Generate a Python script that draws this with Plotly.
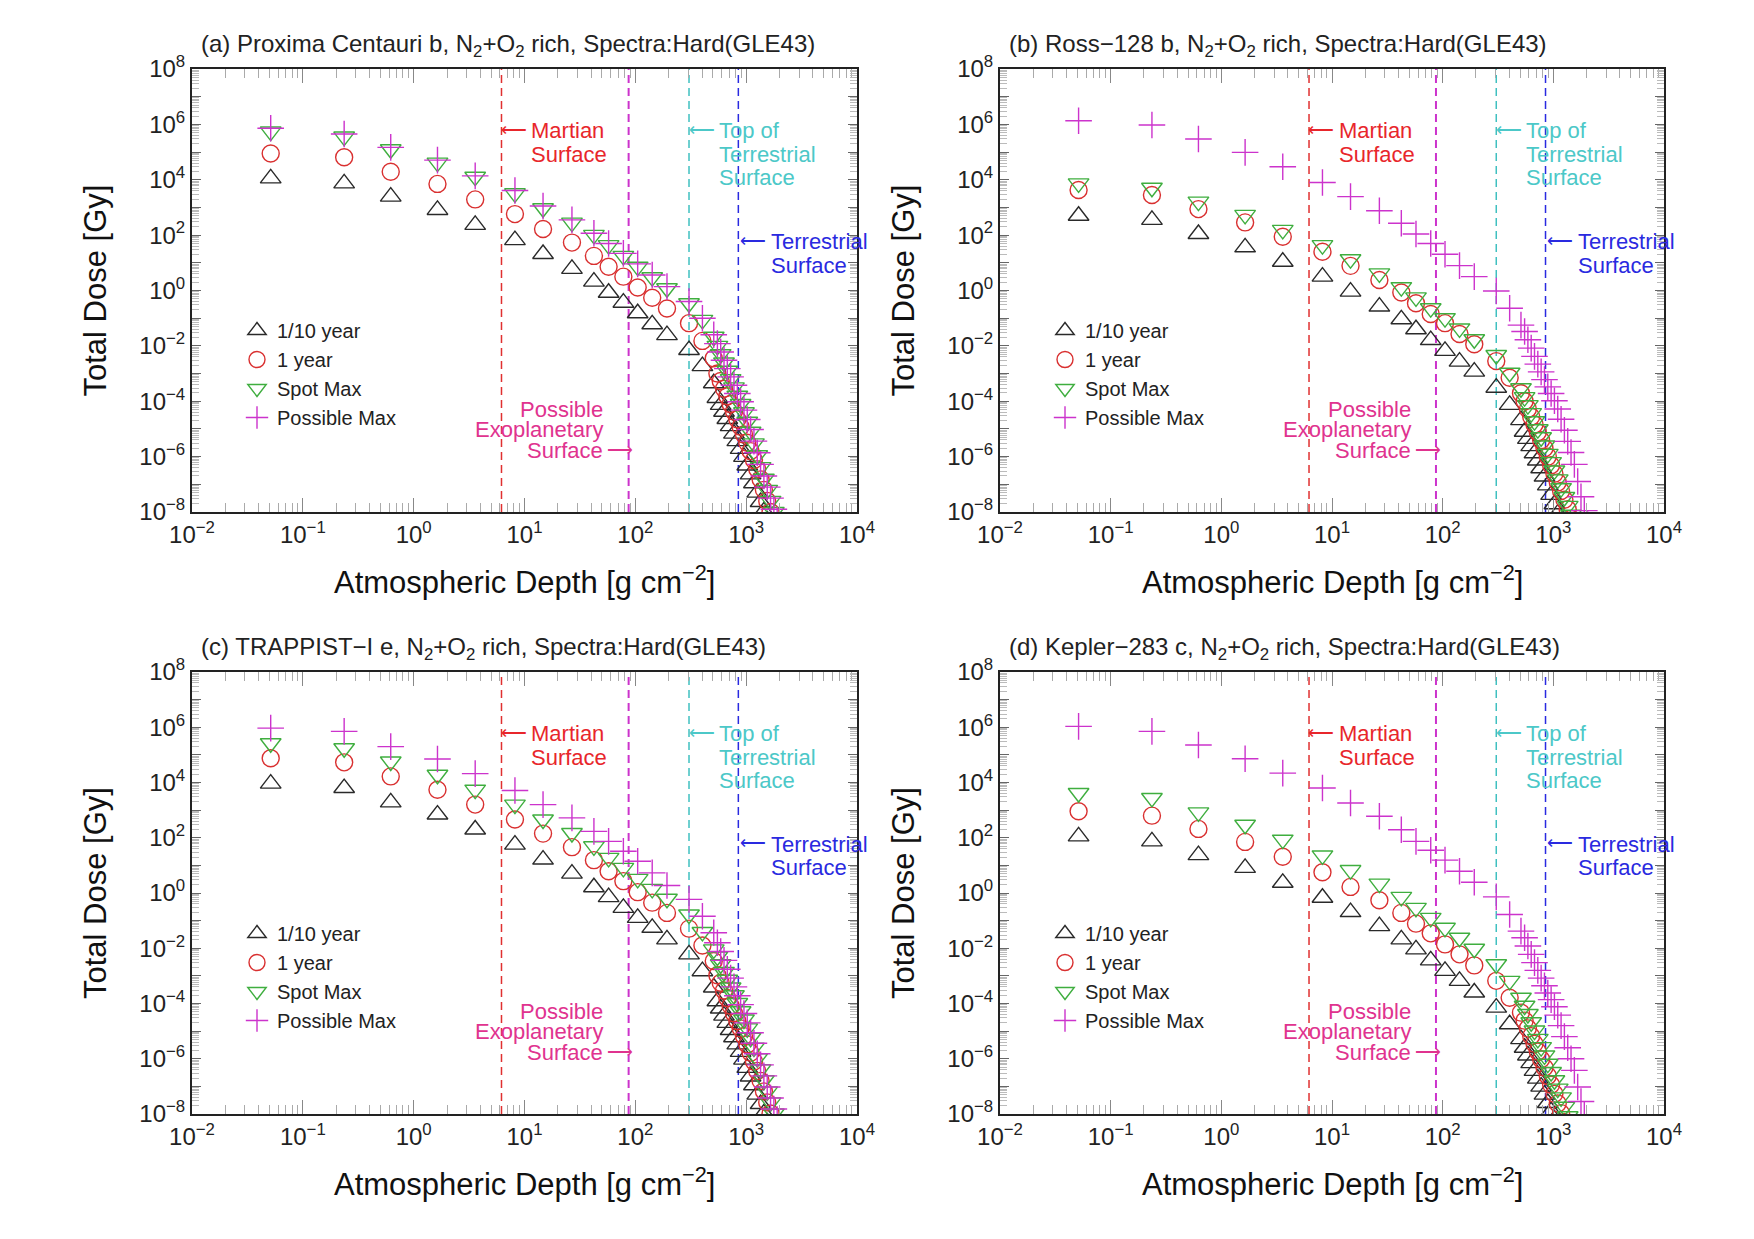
import plotly.graph_objects as go

# ---------------- data ----------------
# atmospheric depth grid [g cm^-2], shared by all panels
depth = [0.0513, 0.236, 0.621, 1.64, 3.59, 8.2, 14.7, 26.8, 42.3, 57.4, 78, 105, 142, 193, 305, 403, 510,
         550, 589, 631, 676, 724, 776, 832, 891, 955, 1023, 1096, 1175, 1259, 1349, 1445, 1549, 1660, 1778, 1905, 2042]

# total dose, stored as log10(Gy)
a_tenth_yr = [4.05, 3.87, 3.39, 2.91, 2.37, 1.82, 1.32, 0.78, 0.32, -0.08, -0.44, -0.82, -1.22, -1.61, -2.15, -2.73, -3.35,
              -3.88, -4.13, -4.38, -4.64, -4.90, -5.17, -5.44, -5.72, -6.01, -6.32, -6.64, -6.96, -7.30, -7.64, -7.98, -8.3, -8.6, -8.9, -9.2, -9.5]
a_one_yr = [4.95, 4.81, 4.29, 3.85, 3.29, 2.76, 2.22, 1.73, 1.25, 0.86, 0.50, 0.11, -0.26, -0.65, -1.18, -1.82, -2.45,
            -3.00, -3.27, -3.55, -3.82, -4.10, -4.37, -4.65, -4.92, -5.20, -5.50, -5.80, -6.12, -6.45, -6.82, -7.20, -7.60, -8.00, -8.4, -8.8, -9.2]
a_spot_max = [5.74, 5.56, 5.10, 4.62, 4.11, 3.51, 2.97, 2.45, 2.01, 1.64, 1.25, 0.86, 0.48, 0.08, -0.46, -1.06, -1.67,
              -2.00, -2.30, -2.60, -2.90, -3.20, -3.50, -3.80, -4.10, -4.40, -4.74, -5.10, -5.52, -5.95, -6.38, -6.80, -7.20, -7.60, -8.0, -8.4, -8.8]
a_poss_max = [5.86, 5.65, 5.17, 4.71, 4.14, 3.61, 3.05, 2.55, 2.07, 1.70, 1.34, 0.96, 0.56, 0.14, -0.40, -1.00, -1.60,
              -1.92, -2.22, -2.52, -2.82, -3.12, -3.42, -3.72, -4.02, -4.32, -4.66, -5.02, -5.44, -5.86, -6.28, -6.70, -7.10, -7.50, -7.90, -8.3, -8.7]

b_tenth_yr = [2.70, 2.55, 2.04, 1.56, 1.04, 0.50, -0.04, -0.58, -1.04, -1.40, -1.79, -2.18, -2.57, -2.93, -3.51, -4.13, -4.68,
              -5.10, -5.36, -5.62, -5.88, -6.14, -6.42, -6.72, -7.04, -7.38, -7.72, -8.06, -8.4, -8.75, -9.1, -9.45, -9.8, -10.15, -10.5, -10.85, -11.2]
b_one_yr = [3.63, 3.45, 2.94, 2.46, 1.94, 1.40, 0.89, 0.38, -0.07, -0.46, -0.85, -1.18, -1.57, -1.94, -2.55, -3.15, -3.71,
            -4.00, -4.28, -4.56, -4.84, -5.12, -5.41, -5.70, -6.00, -6.31, -6.62, -6.93, -7.24, -7.56, -7.90, -8.25, -8.6, -8.95, -9.3, -9.65, -10.0]
b_spot_max = [3.87, 3.71, 3.21, 2.73, 2.19, 1.64, 1.13, 0.62, 0.12, -0.25, -0.64, -1.00, -1.37, -1.76, -2.33, -2.97, -3.53,
              -3.85, -4.14, -4.43, -4.72, -5.01, -5.30, -5.60, -5.90, -6.20, -6.50, -6.82, -7.14, -7.46, -7.78, -8.1, -8.45, -8.8, -9.15, -9.5, -9.85]
b_poss_max = [6.13, 5.98, 5.47, 4.99, 4.47, 3.90, 3.39, 2.88, 2.43, 2.04, 1.70, 1.31, 0.90, 0.50, -0.02, -0.64, -1.25,
              -1.48, -1.78, -2.08, -2.38, -2.66, -2.94, -3.22, -3.48, -3.72, -3.98, -4.28, -4.65, -5.05, -5.45, -5.85, -6.28, -6.90, -7.45, -7.95, -8.45]

c_tenth_yr = [3.96, 3.80, 3.28, 2.84, 2.30, 1.75, 1.21, 0.70, 0.21, -0.15, -0.54, -0.90, -1.26, -1.68, -2.22, -2.83, -3.42,
              -3.92, -4.18, -4.44, -4.70, -4.96, -5.22, -5.48, -5.75, -6.03, -6.33, -6.64, -6.96, -7.30, -7.64, -7.98, -8.3, -8.6, -8.9, -9.2, -9.5]
c_one_yr = [4.88, 4.73, 4.22, 3.74, 3.20, 2.66, 2.15, 1.66, 1.19, 0.79, 0.43, 0.03, -0.35, -0.72, -1.29, -1.90, -2.46,
            -2.98, -3.25, -3.53, -3.80, -4.08, -4.35, -4.63, -4.90, -5.18, -5.48, -5.78, -6.10, -6.44, -6.80, -7.18, -7.58, -7.98, -8.4, -8.8, -9.2]
c_spot_max = [5.42, 5.24, 4.76, 4.28, 3.74, 3.20, 2.66, 2.17, 1.69, 1.27, 0.91, 0.51, 0.15, -0.21, -0.78, -1.41, -2.04,
              -2.30, -2.58, -2.86, -3.14, -3.42, -3.70, -3.98, -4.28, -4.58, -4.90, -5.24, -5.60, -5.98, -6.38, -6.78, -7.18, -7.58, -7.98, -8.4, -8.8]
c_poss_max = [5.97, 5.85, 5.30, 4.85, 4.32, 3.71, 3.20, 2.72, 2.23, 1.87, 1.51, 1.15, 0.73, 0.27, -0.23, -0.84, -1.44,
              -1.80, -2.12, -2.44, -2.76, -3.08, -3.40, -3.72, -4.04, -4.36, -4.70, -5.06, -5.44, -5.82, -6.22, -6.62, -7.02, -7.42, -7.82, -8.2, -8.6]

d_tenth_yr = [2.05, 1.87, 1.37, 0.91, 0.37, -0.17, -0.69, -1.20, -1.68, -2.04, -2.44, -2.82, -3.18, -3.60, -4.15, -4.75, -5.29,
              -5.60, -5.88, -6.16, -6.44, -6.72, -7.01, -7.30, -7.60, -7.90, -8.2, -8.5, -8.8, -9.1, -9.4, -9.7, -10.0, -10.3, -10.6, -10.9, -11.2]
d_one_yr = [2.96, 2.80, 2.32, 1.85, 1.31, 0.75, 0.22, -0.26, -0.72, -1.11, -1.46, -1.86, -2.22, -2.62, -3.18, -3.79, -4.33,
            -4.62, -4.90, -5.18, -5.46, -5.74, -6.02, -6.32, -6.62, -6.94, -7.27, -7.62, -7.97, -8.3, -8.65, -9.0, -9.35, -9.7, -10.05, -10.4, -10.75]
d_spot_max = [3.62, 3.44, 2.92, 2.47, 1.93, 1.36, 0.83, 0.34, -0.14, -0.54, -0.90, -1.26, -1.62, -2.02, -2.58, -3.18, -3.79,
              -4.08, -4.38, -4.68, -4.98, -5.28, -5.58, -5.88, -6.18, -6.48, -6.78, -7.08, -7.40, -7.74, -8.08, -8.4, -8.75, -9.1, -9.45, -9.8, -10.15]
d_poss_max = [6.03, 5.85, 5.36, 4.86, 4.34, 3.80, 3.26, 2.78, 2.29, 1.87, 1.55, 1.19, 0.79, 0.39, -0.14, -0.78, -1.38,
              -1.62, -1.92, -2.22, -2.52, -2.80, -3.08, -3.36, -3.62, -3.86, -4.12, -4.42, -4.80, -5.20, -5.60, -6.00, -6.42, -7.02, -7.55, -8.05, -8.55]

panel_titles = [
    "(a) Proxima Centauri b, N<sub>2</sub>+O<sub>2</sub> rich, Spectra:Hard(GLE43)",
    "(b) Ross\u2212128 b, N<sub>2</sub>+O<sub>2</sub> rich, Spectra:Hard(GLE43)",
    "(c) TRAPPIST\u2212I e, N<sub>2</sub>+O<sub>2</sub> rich, Spectra:Hard(GLE43)",
    "(d) Kepler\u2212283 c, N<sub>2</sub>+O<sub>2</sub> rich, Spectra:Hard(GLE43)",
]
series_names = ["1/10 year", "1 year", "Spot Max", "Possible Max"]
panel_data = [
    [a_tenth_yr, a_one_yr, a_spot_max, a_poss_max],
    [b_tenth_yr, b_one_yr, b_spot_max, b_poss_max],
    [c_tenth_yr, c_one_yr, c_spot_max, c_poss_max],
    [d_tenth_yr, d_one_yr, d_spot_max, d_poss_max],
]
# reference depths of the dashed lines [g cm^-2]
martian_surface = 6.2
exo_surface = 87
top_terrestrial = 305
terrestrial_surface = 850

x_tick_vals = [1e-2, 1e-1, 1e0, 1e1, 1e2, 1e3, 1e4]
x_tick_text = ["10<sup>\u22122</sup>", "10<sup>\u22121</sup>", "10<sup>0</sup>", "10<sup>1</sup>",
               "10<sup>2</sup>", "10<sup>3</sup>", "10<sup>4</sup>"]
y_exps = list(range(-8, 9))
y_tick_vals = [10.0 ** e for e in y_exps]
y_tick_text = [("10<sup>" + ("\u2212" if e < 0 else "") + str(abs(e)) + "</sup>") if e % 2 == 0 else "" for e in y_exps]

x_title = "Atmospheric Depth [g cm<sup>\u22122</sup>]"
y_title = "Total Dose [Gy]"

# ---------------- styling ----------------
W, H = 1754, 1239
FONT = "Liberation Sans, Arial, Helvetica, sans-serif"
styles = [
    dict(symbol="triangle-up-open", color="#2a2a2a", size=18),
    dict(symbol="circle-open", color="#d93030", size=17),
    dict(symbol="triangle-down-open", color="#3fae3f", size=18),
    dict(symbol="cross-thin-open", color="#cc33cc", size=19),
]
# panel rectangles in pixels (left, right, top, bottom)
rects = [(192, 857, 69, 512), (1000, 1664, 69, 512), (192, 857, 672, 1114), (1000, 1664, 672, 1114)]

fig = go.Figure()

minor_x = [m * 10.0 ** e for e in range(-2, 4) for m in range(2, 10)]
minor_y = [m * 10.0 ** e for e in range(-8, 8) for m in range(2, 10)]

for i, (l, r, t, b) in enumerate(rects):
    n = "" if i == 0 else str(i + 1)
    xa, ya = "x" + n, "y" + n
    leg = "legend" + n
    # dashed reference lines
    for xv, col, w in [(martian_surface, "#e03030", 1.5), (exo_surface, "#cc33cc", 2.0),
                       (top_terrestrial, "#40c0c0", 1.5), (terrestrial_surface, "#2a2ae0", 1.5)]:
        fig.add_trace(go.Scatter(x=[xv, xv], y=[1e-8, 1e8], mode="lines", xaxis=xa, yaxis=ya,
                                 line=dict(color=col, width=w, dash="8px,5px"), showlegend=False,
                                 hoverinfo="skip"))
    for s, (name, st) in enumerate(zip(series_names, styles)):
        vals = [10.0 ** v for v in panel_data[i][s]]
        fig.add_trace(go.Scatter(
            x=depth, y=vals, mode="markers", name=name, xaxis=xa, yaxis=ya, legend=leg,
            legendgroup=f"g{i}{s}",
            marker=dict(symbol=st["symbol"], size=st["size"], color=st["color"],
                        line=dict(color=st["color"], width=1.4)),
        ))
    fig.layout["xaxis" + n] = dict(
        type="log", range=[-2, 4], domain=[l / W, r / W], anchor=ya, automargin=False,
        showline=True, linecolor="#222", linewidth=2, mirror="ticks",
        ticks="inside", ticklen=14, tickcolor="#888", tickwidth=1.2,
        tickmode="array", tickvals=x_tick_vals, ticktext=x_tick_text,
        tickfont=dict(size=24, color="#222", family=FONT),
        minor=dict(ticks="inside", ticklen=9, tickcolor="#aaa", tickwidth=1.2, tickvals=minor_x),
        showgrid=False, zeroline=False,
    )
    fig.layout["yaxis" + n] = dict(
        type="log", range=[-8, 8], domain=[1 - b / H, 1 - t / H], anchor=xa, automargin=False,
        showline=True, linecolor="#222", linewidth=2, mirror="ticks",
        ticks="inside", ticklen=9, tickcolor="#666", tickwidth=1.2,
        tickmode="array", tickvals=y_tick_vals, ticktext=y_tick_text,
        tickfont=dict(size=24, color="#222", family=FONT),
        minor=dict(ticks="inside", ticklen=7, tickcolor="#bbb", tickwidth=1.2, tickvals=minor_y),
        showgrid=False, zeroline=False,
    )
    fig.layout[leg] = dict(
        x=(l + 45) / W, y=1 - (t + 242) / H, xanchor="left", yanchor="top",
        bgcolor="rgba(0,0,0,0)", font=dict(size=20, color="#222", family=FONT),
        tracegroupgap=0, itemsizing="trace",
    )
    # axis titles
    fig.add_annotation(x=(l + r) / 2 / W, y=1 - (b + 68) / H, xref="paper", yref="paper",
                       text=x_title, showarrow=False, xanchor="center", yanchor="middle",
                       font=dict(size=31, color="#111", family=FONT))
    fig.add_annotation(x=(l - 97) / W, y=1 - (t + b) / 2 / H, xref="paper", yref="paper",
                       text=y_title, showarrow=False, xanchor="center", yanchor="middle", textangle=-90,
                       font=dict(size=31, color="#111", family=FONT))
    # panel title
    fig.add_annotation(x=(l + 7) / W, y=1 - (t - 24) / H, xref="paper", yref="paper",
                       text=panel_titles[i], showarrow=False, xanchor="left", yanchor="middle",
                       font=dict(size=24, color="#222", family=FONT))
    # in-panel labels (positions in log10 units)
    def lab(x, y, txt, col, anchor, size=22):
        fig.add_annotation(x=x, y=y, xref=xa, yref=ya, text=txt, showarrow=False,
                           xanchor=anchor, yanchor="middle", font=dict(size=size, color=col, family=FONT))
    red, cyan, blue, pink = "#e8262b", "#4cc8c8", "#2a2ae0", "#e0338f"
    arrow_l, arrow_r = "\u27f5", "\u27f6"
    lab(1.040, 5.80, arrow_l, red, "right", 18)
    lab(1.042, 5.77, "Martian", red, "left")
    lab(1.042, 4.92, "Surface", red, "left")
    lab(2.736, 5.80, arrow_l, cyan, "right", 18)
    lab(2.738, 5.77, "Top of", cyan, "left")
    lab(2.738, 4.92, "Terrestrial", cyan, "left")
    lab(2.738, 4.09, "Surface", cyan, "left")
    lab(3.200, 1.80, arrow_l, blue, "right", 18)
    lab(3.202, 1.77, "Terrestrial", blue, "left")
    lab(3.202, 0.92, "Surface", blue, "left")
    lab(1.728, -4.30, "Possible", pink, "right")
    lab(1.728, -5.02, "Exoplanetary", pink, "right")
    lab(1.728, -5.79, "Surface", pink, "right")
    lab(1.730, -5.76, arrow_r, pink, "left", 18)

fig.update_layout(
    width=W, height=H, margin=dict(l=0, r=0, t=0, b=0),
    paper_bgcolor="white", plot_bgcolor="white",
    font=dict(family=FONT, color="#222"),
)
fig.write_html("out.html")
